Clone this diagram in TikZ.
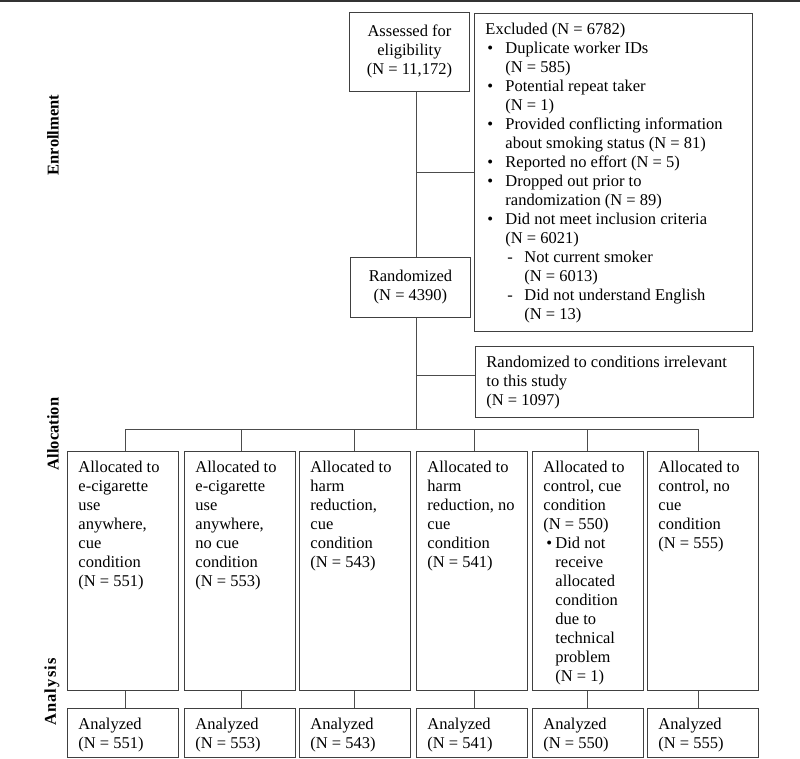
\documentclass[tikz,border=0pt]{standalone}
\usepackage{fontspec}
\setmainfont{Liberation Serif}
\tikzset{
  flowbox/.style={draw=black!75, line width=0.9pt, anchor=north west, inner xsep=11pt, inner ysep=7.5pt, font=\fontsize{16.5}{19}\selectfont},
  midbox/.style={draw=black!75, line width=0.9pt, anchor=north west, inner sep=0pt, align=center, font=\fontsize{16.5}{19}\selectfont},
  link/.style={draw=black!70, line width=0.9pt},
  stage/.style={rotate=90, font=\fontsize{16.5}{19}\selectfont\bfseries}
}
\newcommand{\boxbody}[3]{\parbox[c][#2][t]{#1}{\raggedright\strut#3}}
\newcommand{\itm}{\makebox[20pt][l]{\hspace{2pt}\textbullet}}
\newcommand{\subitm}{\hspace*{22pt}\makebox[17pt][l]{-}}
\newcommand{\smallitm}{\makebox[12pt][l]{\hspace{3pt}\textbullet}}
\begin{document}
\begin{tikzpicture}[x=1pt,y=-1pt]
\useasboundingbox (0,0) rectangle (800,759);
\fill[black!80] (0,0) rectangle (800,2.5);

% stages
\node[stage] (enrol) at (53,135) {Enrollment};
\node[stage] (alloc) at (53,434) {Allocation};
\node[stage] (anal) at (52,692) {\addfontfeatures{LetterSpace=7}Analysis};

% enrollment
\node[midbox, minimum width=120pt, minimum height=79pt] (assess) at (349,12) {Assessed for\\eligibility\\(N = 11,172)};
\node[flowbox] (excl) at (474,13) {\boxbody{256pt}{303pt}{%
Excluded (N = 6782)\\
\itm Duplicate worker IDs\\
\hspace*{20pt}(N = 585)\\
\itm Potential repeat taker\\
\hspace*{20pt}(N = 1)\\
\itm Provided conflicting information\\
\hspace*{20pt}about smoking status (N = 81)\\
\itm Reported no effort (N = 5)\\
\itm Dropped out prior to\\
\hspace*{20pt}randomization (N = 89)\\
\itm Did not meet inclusion criteria\\
\hspace*{20pt}(N = 6021)\\
\subitm Not current smoker\\
\hspace*{39pt}(N = 6013)\\
\subitm Did not understand English\\
\hspace*{39pt}(N = 13)}};
\node[midbox, minimum width=120pt, minimum height=60pt] (rand) at (350,257) {Randomized\\(N = 4390)};
\node[flowbox] (irr) at (475,346) {\boxbody{256pt}{56pt}{%
Randomized to conditions irrelevant\\to this study\\(N = 1097)}};

% allocation
\node[flowbox] (a1) at (67,451) {\boxbody{89pt}{224pt}{Allocated to\\e-cigarette\\use\\anywhere,\\cue\\condition\\(N = 551)}};
\node[flowbox] (a2) at (184,451) {\boxbody{89pt}{224pt}{Allocated to\\e-cigarette\\use\\anywhere,\\no cue\\condition\\(N = 553)}};
\node[flowbox] (a3) at (299,451) {\boxbody{89pt}{224pt}{Allocated to\\harm\\reduction,\\cue\\condition\\(N = 543)}};
\node[flowbox] (a4) at (416,451) {\boxbody{89pt}{224pt}{Allocated to\\harm\\reduction, no\\cue\\condition\\(N = 541)}};
\node[flowbox] (a5) at (532,451) {\boxbody{89pt}{224pt}{Allocated to\\control, cue\\condition\\(N = 550)\\
\smallitm Did not\\\hspace*{12pt}receive\\\hspace*{12pt}allocated\\\hspace*{12pt}condition\\\hspace*{12pt}due to\\\hspace*{12pt}technical\\\hspace*{12pt}problem\\\hspace*{12pt}(N = 1)}};
\node[flowbox] (a6) at (647,451) {\boxbody{89pt}{224pt}{Allocated to\\control, no\\cue\\condition\\(N = 555)}};

% analysis
\foreach \n/\x/\N in {1/67/551, 2/184/553, 3/299/543, 4/416/541, 5/532/550, 6/647/555}
  \node[flowbox] (z\n) at (\x,708) {\boxbody{89pt}{34pt}{Analyzed\\(N = \N)}};

% connectors
\coordinate (trunk) at (416,0);
\coordinate (irrjoin) at (416,375);
\coordinate (bus) at (416,429);
\draw[link] (assess.south -| trunk) -- (rand.north -| trunk);
\draw[link] (trunk |- excl.west) -- (excl.west);
\draw[link] (rand.south -| trunk) -- (bus);
\draw[link] (irrjoin) -- (irrjoin -| irr.west);
\foreach \n/\x in {1/125, 2/241, 3/354, 4/474, 5/587, 6/698}
  \coordinate (d\n) at (\x,429);
\draw[link] (d1) -- (d6);
\foreach \n in {1,...,6} {
  \draw[link] (d\n) -- (d\n |- a\n.north);
  \draw[link] (a\n.south -| d\n) -- (z\n.north -| d\n);
}
\end{tikzpicture}
\end{document}
